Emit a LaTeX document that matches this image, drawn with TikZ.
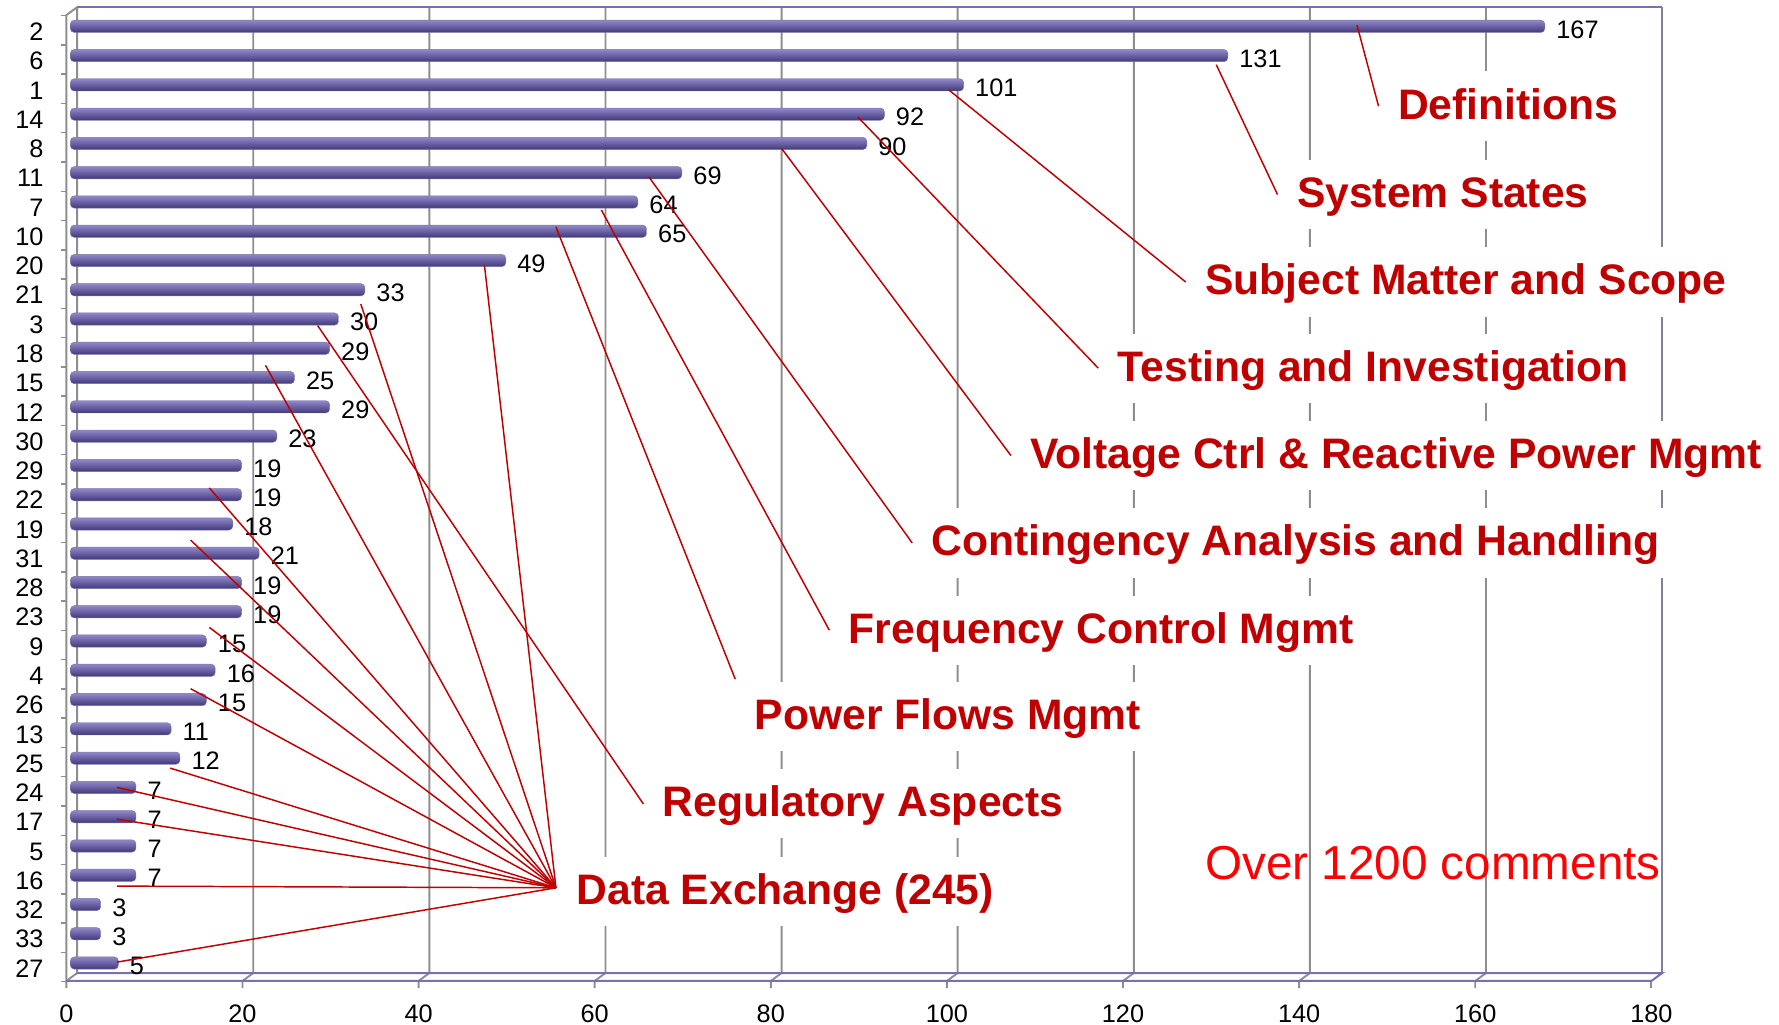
\documentclass[tikz,border=0pt]{standalone}
\usepackage{fontspec}
\setmainfont{Liberation Sans}
\usetikzlibrary{calc}

\definecolor{barmid}{HTML}{6A5FAA}
\definecolor{bartop}{HTML}{9088C8}
\definecolor{barbot}{HTML}{40387A}
\definecolor{axispurple}{HTML}{7670B4}
\definecolor{gridgray}{HTML}{8E8E8E}
\definecolor{leadred}{HTML}{C00000}
\definecolor{notered}{HTML}{FF0000}

\begin{document}
\begin{tikzpicture}[x=1pt,y=-1pt,
  gridline/.style={gridgray, line width=1.7pt},
  frameline/.style={axispurple, line width=1.8pt},
  barbody/.style={top color=bartop, middle color=barmid, bottom color=barbot,
    draw=barbot!70, line width=0.4pt, rounded corners=3.5pt},
  numlbl/.style={inner sep=0pt, font=\fontsize{22.3}{26}\selectfont},
  catlbl/.style={numlbl, anchor=base east},
  vallbl/.style={numlbl, anchor=base west},
  ticklbl/.style={numlbl, anchor=base},
  topic/.style={anchor=base west, fill=white, text=leadred,
    font=\fontsize{37.6}{44}\selectfont\bfseries,
    inner xsep=17pt, inner ysep=13pt, text height=29pt, text depth=6pt},
  leader/.style={leadred, line width=1.3pt},
]
\useasboundingbox (0,0) rectangle (1568,903);

% back wall grid lines with their floor ticks
\foreach \k in {1,...,8} {
  \pgfmathsetmacro\xb{68+155.22*\k}
  \draw[gridline] (\xb,6.3) -- (\xb,857.6) -- (\xb-9.5,864.6) -- (\xb-9.5,871);
}
% left walls and category ticks
\draw[gridline] (68,6.3) -- (68,857.6) -- (58.5,864.6);
\draw[gridline] (68,6.3) -- (58.5,13.3) -- (58.5,871);
\foreach \r in {0,...,33}
  \draw[gridgray, line width=1.3pt] (53.5,13.8+25.8*\r) -- (58.5,13.8+25.8*\r);
\draw[gridline] (1455.5,864.6) -- (1455.5,871);

% chart frame and floor
\draw[frameline] (68,6.3) -- (1465,6.3);
\draw[gridgray!55!axispurple, line width=1.8pt] (1465,6.3) -- (1465,857.6);
\draw[frameline] (68,857.6) -- (1465,857.6) -- (1455.5,864.6) -- (58.5,864.6);

% axis numbers
\foreach \k/\t in {0/0,1/20,2/40,3/60,4/80,5/100,6/120,7/140,8/160,9/180}
  \node[ticklbl] (tick\k) at (58.5+155.22*\k,901) {\t};

% bars, categories and values
\foreach \c/\v [count=\r from 0] in {2/167,6/131,1/101,14/92,8/90,11/69,7/64,10/65,
    20/49,21/33,3/30,18/29,15/25,12/29,30/23,29/19,22/19,19/18,31/21,28/19,23/19,
    9/15,4/16,26/15,13/11,25/12,24/7,17/7,5/7,16/7,32/3,33/3,27/5} {
  \pgfmathsetmacro\yc{23.2+25.8*\r}
  \pgfmathsetmacro\xe{63.5+7.761*\v}
  \path[barbody] (62,\yc-5.4) rectangle (\xe+2,\yc+5.4);
  \node[catlbl] (cat\r) at (38.5,\yc+12.5) {\c};
  \node[vallbl] (val\r) at (\xe+12,\yc+10.3) {\v};
}

% topic captions
\node[topic] (def)  at (1215,105) {Definitions};
\node[topic] (sys)  at (1126,183) {System States};
\node[topic] (subj) at (1045,260) {Subject Matter and Scope};
\node[topic] (test) at (968,336)  {Testing and Investigation};
\node[topic] (volt) at (891,413)  {Voltage Ctrl \& Reactive Power Mgmt};
\node[topic] (cont) at (804,490)  {Contingency Analysis and Handling};
\node[topic] (freq) at (731,567)  {Frequency Control Mgmt};
\node[topic] (pow)  at (648,643)  {Power Flows Mgmt};
\node[topic] (reg)  at (567,720)  {Regulatory Aspects};
\node[topic] (data) at (491,797)  {Data Exchange (245)};

\node[anchor=base west, inner sep=0pt, text=notered,
  font=\fontsize{42}{50}\selectfont] (note) at (1062,775) {Over 1200 comments};

% leader start points on the bars
\coordinate (sDef)  at (1196,22);
\coordinate (sSys)  at (1072,57);
\coordinate (sSubj) at (836,79);
\coordinate (sTest) at (756,103);
\coordinate (sVolt) at (689,131);
\coordinate (sCont) at (572,156);
\coordinate (sFreq) at (530,185);
\coordinate (sPow)  at (490,200);
\coordinate (sReg)  at (280,287);

\draw[leader] (sDef)  -- (def.west);
\draw[leader] (sSys)  -- (sys.west);
\draw[leader] (sSubj) -- (subj.west);
\draw[leader] (sTest) -- (test.west);
\draw[leader] (sVolt) -- (volt.west);
\draw[leader] (sCont) -- (cont.west);
\draw[leader] (sFreq) -- (freq.west);
\draw[leader] (sPow)  -- ($(pow.west)+(0,-33)$);
\draw[leader] (sReg)  -- (reg.west);

% fan of data exchange leaders
\coordinate (hub) at ($(data.west)+(-1,-3)$);
\foreach \px/\py [count=\i] in {427/234,318/268,234/322,184.5/430,168/476,
    184.5/553,168/607,150/677,103/694,103/722,103/781,103/848} {
  \coordinate (d\i) at (\px,\py);
  \draw[leader] (d\i) -- (hub);
}
\end{tikzpicture}
\end{document}
